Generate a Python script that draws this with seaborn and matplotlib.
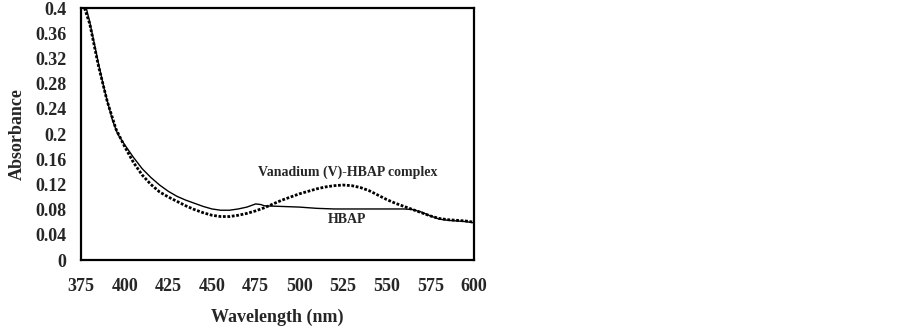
import pandas as pd
import matplotlib
matplotlib.use("Agg")
import matplotlib.pyplot as plt
import seaborn as sns

# HBAP (solid line)
hbap_nm = [378, 380, 382, 385, 388, 390, 393, 396, 400, 405, 410, 415, 420, 425,
           430, 435, 440, 445, 450, 455, 460, 465, 470, 475, 478, 480, 485, 490,
           500, 510, 520, 530, 540, 550, 560, 565, 570, 575, 580, 585, 590, 595, 600]
hbap_abs = [0.400, 0.378, 0.352, 0.312, 0.275, 0.253, 0.222, 0.200, 0.183, 0.163,
            0.145, 0.131, 0.119, 0.109, 0.101, 0.095, 0.090, 0.085, 0.081, 0.079,
            0.079, 0.081, 0.084, 0.089, 0.088, 0.086, 0.0855, 0.085, 0.084, 0.082,
            0.081, 0.081, 0.081, 0.081, 0.081, 0.080, 0.076, 0.070, 0.065, 0.063,
            0.062, 0.061, 0.059]

# Vanadium (V)-HBAP complex (dotted line)
cplx_nm = [377, 380, 385, 390, 395, 400, 405, 410, 415, 420, 425, 430, 435, 440,
           445, 450, 455, 460, 465, 470, 475, 480, 485, 490, 495, 500, 505, 510,
           515, 520, 525, 530, 535, 540, 545, 550, 555, 560, 565, 570, 575, 580,
           585, 590, 595, 600]
cplx_abs = [0.400, 0.375, 0.308, 0.252, 0.208, 0.180, 0.155, 0.135, 0.120, 0.108,
            0.100, 0.093, 0.086, 0.080, 0.075, 0.071, 0.069, 0.069, 0.071, 0.074,
            0.078, 0.083, 0.089, 0.095, 0.100, 0.105, 0.109, 0.113, 0.116, 0.118,
            0.119, 0.118, 0.115, 0.110, 0.103, 0.096, 0.090, 0.085, 0.080, 0.075,
            0.070, 0.066, 0.064, 0.063, 0.062, 0.060]

x_ticks = [375, 400, 425, 450, 475, 500, 525, 550, 575, 600]
y_ticks = [0, 0.04, 0.08, 0.12, 0.16, 0.2, 0.24, 0.28, 0.32, 0.36, 0.4]
y_tick_labels = ["0", "0.04", "0.08", "0.12", "0.16", "0.2", "0.24", "0.28", "0.32", "0.36", "0.4"]

hbap = pd.DataFrame({"nm": hbap_nm, "abs": hbap_abs})
cplx = pd.DataFrame({"nm": cplx_nm, "abs": cplx_abs})

sns.set_style("white")
plt.rcParams["font.family"] = ["Liberation Serif", "DejaVu Serif"]
plt.rcParams["font.weight"] = "bold"

fig = plt.figure(figsize=(9.02, 3.31), dpi=100)
ax = fig.add_axes([0.0898, 0.2145, 0.4357, 0.7613])

sns.lineplot(data=hbap, x="nm", y="abs", ax=ax, color="black", linewidth=1.0)
sns.lineplot(data=cplx, x="nm", y="abs", ax=ax, color="black", linewidth=2.0,
             linestyle=(0, (1, 0.6)))

ax.set_xlim(375, 600)
ax.set_ylim(0, 0.4)
ax.set_xticks(x_ticks)
ax.set_yticks(y_ticks)
ax.set_yticklabels(y_tick_labels)
ax.tick_params(axis="x", direction="out", length=3, width=1, pad=10, labelsize=13)
ax.tick_params(axis="y", direction="out", length=5, width=1, pad=5.5, labelsize=13)
for lbl in ax.get_xticklabels() + ax.get_yticklabels():
    lbl.set_fontweight("bold")

for s in ax.spines.values():
    s.set_color("black")
    s.set_linewidth(1.6)

ax.set_xlabel("Wavelength (nm)", fontsize=13, fontweight="bold", labelpad=10)
ax.set_ylabel("Absorbance", fontsize=13, fontweight="bold", labelpad=7)

ax.text(528, 0.140, "Vanadium (V)-HBAP complex", ha="center", va="center",
        fontsize=10, fontweight="bold")
ax.text(527, 0.0635, "HBAP", ha="center", va="center", fontsize=10, fontweight="bold")

fig.savefig("out.png", dpi=100)
